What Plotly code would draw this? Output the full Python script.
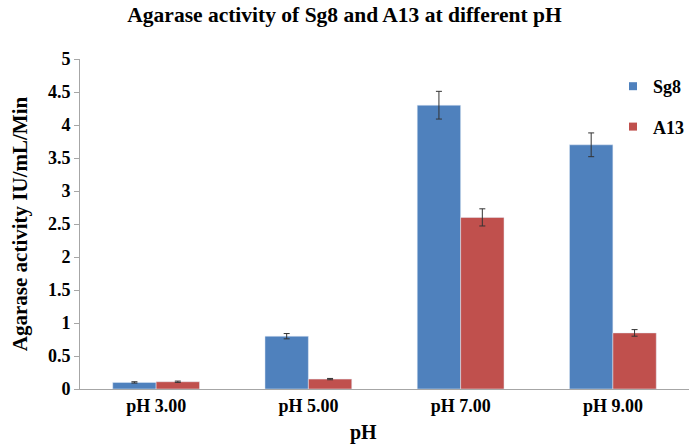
import plotly.graph_objects as go

categories = ["pH 3.00", "pH 5.00", "pH 7.00", "pH 9.00"]
sg8_values = [0.10, 0.80, 4.30, 3.70]
sg8_errors = [0.01, 0.04, 0.21, 0.18]
a13_values = [0.11, 0.15, 2.60, 0.85]
a13_errors = [0.01, 0.01, 0.13, 0.05]
y_ticks = [0, 0.5, 1, 1.5, 2, 2.5, 3, 3.5, 4, 4.5, 5]

FONT = "Liberation Serif"
BLUE = "#4F81BD"
RED = "#C0504D"

fig = go.Figure()
fig.add_trace(go.Bar(
    x=categories, y=sg8_values, name="Sg8", marker_color=BLUE,
    error_y=dict(type="data", array=sg8_errors, color="#333333", thickness=1, width=3),
    showlegend=False,
))
fig.add_trace(go.Bar(
    x=categories, y=a13_values, name="A13", marker_color=RED,
    error_y=dict(type="data", array=a13_errors, color="#333333", thickness=1, width=3),
    showlegend=False,
))
# legend entries with small square swatches
for nm, col, grp in [("Sg8", BLUE, "g1"), ("A13", RED, "g2")]:
    fig.add_trace(go.Scatter(
        x=[None], y=[None], mode="markers", name=f"<b>{nm}</b>", legendgroup=grp,
        marker=dict(symbol="square", size=8, color=col),
    ))

H_PLOT = 444 - 59 - 55
W_PLOT = 689 - 80

fig.update_layout(
    width=689, height=444,
    margin=dict(l=80, r=0, t=59, b=55),
    paper_bgcolor="white", plot_bgcolor="white",
    barmode="group", bargap=0.43, bargroupgap=0,
    font=dict(family=FONT, color="#000000"),
    title=dict(text="<b>Agarase activity of Sg8 and A13 at different pH</b>",
               x=0.5, xanchor="center", y=0.968, yanchor="middle",
               font=dict(size=21.5, family=FONT)),
    legend=dict(x=(613 - 80) / W_PLOT, y=(389 - 68) / H_PLOT, xanchor="left", yanchor="top",
                traceorder="grouped", tracegroupgap=14,
                font=dict(size=18, family=FONT), bgcolor="rgba(0,0,0,0)",
                itemwidth=30),
    xaxis=dict(
        type="category", showline=True, linecolor="#A6A6A6", linewidth=1,
        ticks="", tickfont=dict(size=18, family=FONT),
        tickprefix="<b>", ticksuffix="</b>", showgrid=False,
    ),
    yaxis=dict(
        range=[0, 5], tickvals=y_ticks, ticktext=[f"<b>{v:g}</b>" for v in y_ticks],
        showline=True, linecolor="#A6A6A6", linewidth=1,
        ticks="outside", ticklen=5, tickcolor="#A6A6A6", tickfont=dict(size=18, family=FONT),
        showgrid=False, zeroline=False,
        title=dict(text="<b>Agarase activity IU/mL/Min</b>", font=dict(size=21, family=FONT), standoff=14),
    ),
    annotations=[dict(text="<b>pH</b>", xref="paper", yref="paper",
                      x=(363 - 80) / W_PLOT, y=-(432 - 389) / H_PLOT,
                      xanchor="center", yanchor="middle",
                      showarrow=False, font=dict(size=20, family=FONT))],
)

fig.write_html("out.html", config={"displayModeBar": False},
               post_script="document.body.style.margin='0';document.body.style.padding='0';")
